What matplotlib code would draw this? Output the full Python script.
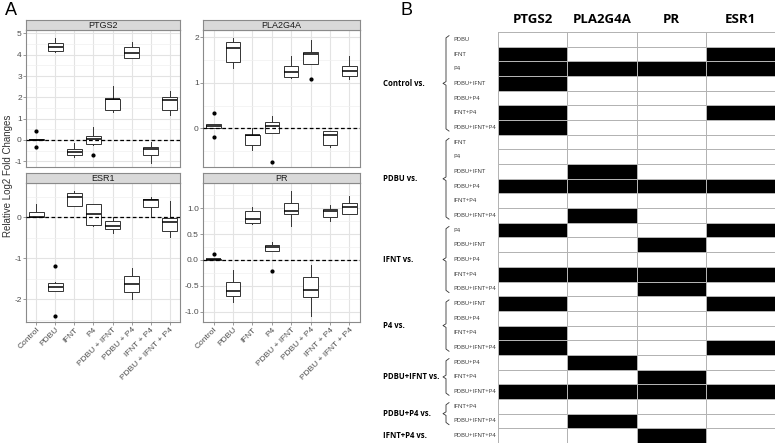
import numpy as np
import matplotlib
matplotlib.use('Agg')
import matplotlib.pyplot as plt
from matplotlib.colors import ListedColormap
from matplotlib.ticker import MultipleLocator

plt.rcParams['font.family'] = ['Liberation Sans', 'DejaVu Sans']
plt.rcParams['axes.unicode_minus'] = False

# %% data
treatments = ['Control', 'PDBU', 'IFNT', 'P4', 'PDBU + IFNT', 'PDBU + P4',
              'IFNT + P4', 'PDBU + IFNT + P4']

# box stats: (whislo, q1, med, q3, whishi, fliers)
ptgs2 = [(0.0, 0.0, 0.02, 0.04, 0.04, [0.42, -0.34]),
         (4.15, 4.19, 4.37, 4.53, 4.8, []),
         (-0.8, -0.69, -0.55, -0.41, -0.16, []),
         (-0.25, -0.19, 0.03, 0.19, 0.62, [-0.7]),
         (1.3, 1.41, 1.9, 1.94, 2.53, []),
         (3.85, 3.86, 4.1, 4.34, 4.6, []),
         (-1.1, -0.72, -0.42, -0.31, -0.12, []),
         (1.17, 1.39, 1.87, 2.02, 2.3, [])]
pla2g4a = [(0.0, 0.0, 0.04, 0.09, 0.09, [0.34, -0.2]),
           (1.32, 1.45, 1.76, 1.9, 1.99, []),
           (-0.48, -0.37, -0.15, -0.14, 0.0, []),
           (-0.11, -0.11, 0.05, 0.13, 0.26, [-0.74]),
           (1.1, 1.12, 1.23, 1.38, 1.58, []),
           (1.41, 1.41, 1.63, 1.67, 1.94, [1.08]),
           (-0.4, -0.37, -0.15, -0.07, -0.05, []),
           (1.08, 1.14, 1.26, 1.38, 1.58, [])]
esr1 = [(0.0, 0.0, 0.02, 0.13, 0.33, []),
        (-1.8, -1.79, -1.7, -1.6, -1.58, [-1.19, -2.4]),
        (0.27, 0.27, 0.51, 0.59, 0.65, []),
        (-0.2, -0.18, 0.09, 0.33, 0.33, []),
        (-0.38, -0.28, -0.22, -0.08, 0.02, []),
        (-1.98, -1.82, -1.62, -1.44, -1.23, []),
        (0.02, 0.25, 0.43, 0.46, 0.49, []),
        (-0.48, -0.33, -0.1, -0.02, 0.39, [])]
pr = [(0.0, 0.0, 0.01, 0.02, 0.02, [0.11]),
      (-0.82, -0.7, -0.6, -0.43, -0.19, []),
      (0.7, 0.71, 0.79, 0.95, 1.03, []),
      (0.18, 0.18, 0.26, 0.29, 0.34, [-0.22]),
      (0.66, 0.89, 0.95, 1.1, 1.34, []),
      (-1.08, -0.72, -0.59, -0.32, -0.09, []),
      (0.76, 0.83, 0.94, 0.98, 1.06, []),
      (0.89, 0.89, 1.03, 1.11, 1.24, [])]

panel_genes = ['PTGS2', 'PLA2G4A', 'ESR1', 'PR']
panel_stats = [ptgs2, pla2g4a, esr1, pr]
panel_ylim = [(-1.27, 5.16), (-0.85, 2.16), (-2.55, 0.84), (-1.2, 1.49)]
panel_major = [1, 1, 1, 0.5]

# significance table (1 = significant)
table_genes = ['PTGS2', 'PLA2G4A', 'PR', 'ESR1']
groups = ['Control vs.', 'PDBU vs.', 'IFNT vs.', 'P4 vs.', 'PDBU+IFNT vs.',
          'PDBU+P4 vs.', 'IFNT+P4 vs.']
group_rows = [['PDBU', 'IFNT', 'P4', 'PDBU+IFNT', 'PDBU+P4', 'IFNT+P4', 'PDBU+IFNT+P4'],
              ['IFNT', 'P4', 'PDBU+IFNT', 'PDBU+P4', 'IFNT+P4', 'PDBU+IFNT+P4'],
              ['P4', 'PDBU+IFNT', 'PDBU+P4', 'IFNT+P4', 'PDBU+IFNT+P4'],
              ['PDBU+IFNT', 'PDBU+P4', 'IFNT+P4', 'PDBU+IFNT+P4'],
              ['PDBU+P4', 'IFNT+P4', 'PDBU+IFNT+P4'],
              ['IFNT+P4', 'PDBU+IFNT+P4'],
              ['PDBU+IFNT+P4']]
sig = np.array([
    [0, 0, 0, 0], [1, 0, 0, 1], [1, 1, 1, 1], [1, 0, 0, 0], [0, 0, 0, 0], [1, 0, 0, 1], [1, 0, 0, 0],
    [0, 0, 0, 0], [0, 0, 0, 0], [0, 1, 0, 0], [1, 1, 1, 1], [0, 0, 0, 0], [0, 1, 0, 0],
    [1, 0, 0, 1], [0, 0, 1, 0], [0, 0, 0, 0], [1, 1, 1, 1], [0, 0, 1, 0],
    [1, 0, 0, 1], [0, 0, 0, 0], [1, 0, 0, 0], [1, 0, 0, 1],
    [0, 1, 0, 0], [0, 0, 1, 0], [1, 1, 1, 1],
    [0, 0, 0, 0], [0, 1, 0, 0],
    [0, 0, 1, 0]])

# %% figure
W, H = 778, 445
fig = plt.figure(figsize=(W / 100, H / 100), dpi=100)

def px_axes(x0, y0, x1, y1):
    return fig.add_axes([x0 / W, 1 - y1 / H, (x1 - x0) / W, (y1 - y0) / H])

boxes_px = [(26, 30, 180, 167), (203, 30, 360, 167), (26, 183, 180, 322), (203, 183, 360, 322)]
grey_txt = '#4d4d4d'
for k, (gene, stats, ylim, maj) in enumerate(zip(panel_genes, panel_stats, panel_ylim, panel_major)):
    x0, y0, x1, y1 = boxes_px[k]
    ax = px_axes(x0, y0, x1, y1)
    bx = [dict(whislo=s[0], q1=s[1], med=s[2], q3=s[3], whishi=s[4], fliers=s[5]) for s in stats]
    ax.bxp(bx, positions=np.arange(1, 9), widths=0.75, showcaps=False, patch_artist=True,
           boxprops=dict(facecolor='white', edgecolor='#333333', lw=0.7),
           whiskerprops=dict(color='#333333', lw=0.7),
           medianprops=dict(color='black', lw=1.1),
           flierprops=dict(marker='o', markersize=2, markerfacecolor='black',
                           markeredgecolor='black'))
    # reference line sits on top of the boxes
    ax.axhline(0, color='black', ls=(0, (3, 2)), lw=0.9, zorder=4)
    ax.set_xlim(0.45, 8.55)
    ax.set_ylim(*ylim)
    ax.yaxis.set_major_locator(MultipleLocator(maj))
    ax.yaxis.set_minor_locator(MultipleLocator(maj / 2))
    if maj < 1:
        ax.yaxis.set_major_formatter(matplotlib.ticker.FormatStrFormatter('%.1f'))
    ax.set_xticks(np.arange(1, 9))
    ax.set_axisbelow(True)
    ax.grid(which='major', color='#e3e3e3', lw=0.8)
    ax.grid(which='minor', axis='y', color='#f0f0f0', lw=0.5)
    for sp in ax.spines.values():
        sp.set_color('#8a8a8a')
        sp.set_linewidth(0.8)
    ax.tick_params(length=2, width=0.6, color='#8a8a8a', labelsize=6, labelcolor=grey_txt, pad=1)
    ax.tick_params(which='minor', length=0)
    if k < 2:
        ax.set_xticklabels([])
        ax.tick_params(axis='x', length=0)
    else:
        ax.set_xticklabels(treatments, rotation=45, ha='right', rotation_mode='anchor')
    # facet strip
    sx = px_axes(x0, y0 - 10, x1, y0)
    sx.set_facecolor('#d9d9d9')
    sx.set_xticks([])
    sx.set_yticks([])
    for sp in sx.spines.values():
        sp.set_color('#8a8a8a')
        sp.set_linewidth(0.8)
    sx.text(0.5, 0.45, gene, ha='center', va='center', fontsize=6.5, color='#1a1a1a',
            transform=sx.transAxes)

fig.text(8 / W, 1 - 176 / H, 'Relative Log2 Fold Changes', rotation=90, ha='center',
         va='center', fontsize=7, color='#333333')
fig.text(5 / W, 1 - 2 / H, 'A', fontsize=13, va='top', ha='left')
fig.text(400 / W, 1 - 2 / H, 'B', fontsize=13, va='top', ha='left')

# %% table
tb = px_axes(498, 32, 775, 443)
n_rows = sig.shape[0]
tb.pcolormesh(np.arange(5), np.arange(n_rows + 1), sig, cmap=ListedColormap(['white', 'black']),
              edgecolors='#b3b3b3', linewidth=0.6)
tb.set_xlim(0, 4)
tb.set_ylim(n_rows, 0)
tb.axis('off')
col_w = 277 / 4
for j, g in enumerate(table_genes):
    tb.text(j + 0.5, -0.85, g, ha='center', va='center', fontsize=9.5, fontweight='bold',
            family=['Open Sans', 'DejaVu Sans'], clip_on=False)

lab_x = (453 - 498) / col_w
brace_x = (446 - 498) / col_w
grp_x = (383 - 498) / col_w
hook = 3 / col_w
r = 0
for grp, rows in zip(groups, group_rows):
    for i, lab in enumerate(rows):
        tb.text(lab_x, r + i + 0.5, lab, ha='left', va='center', fontsize=4.3, color='#333333',
                family=['Open Sans', 'DejaVu Sans'], clip_on=False)
    mid = r + len(rows) / 2
    tb.text(grp_x, mid, grp, ha='left', va='center', fontsize=5.6, fontweight='bold',
            family=['Open Sans', 'DejaVu Sans'], clip_on=False)
    if len(rows) > 1:
        top, bot = r + 0.25, r + len(rows) - 0.25
        bxs = [brace_x + hook, brace_x, brace_x, brace_x - hook, brace_x, brace_x, brace_x + hook]
        bys = [top, top + 0.15, mid - 0.12, mid, mid + 0.12, bot - 0.15, bot]
        tb.plot(bxs, bys, color='#333333', lw=0.6, clip_on=False)
    r += len(rows)

fig.savefig('out.png', dpi=100)
